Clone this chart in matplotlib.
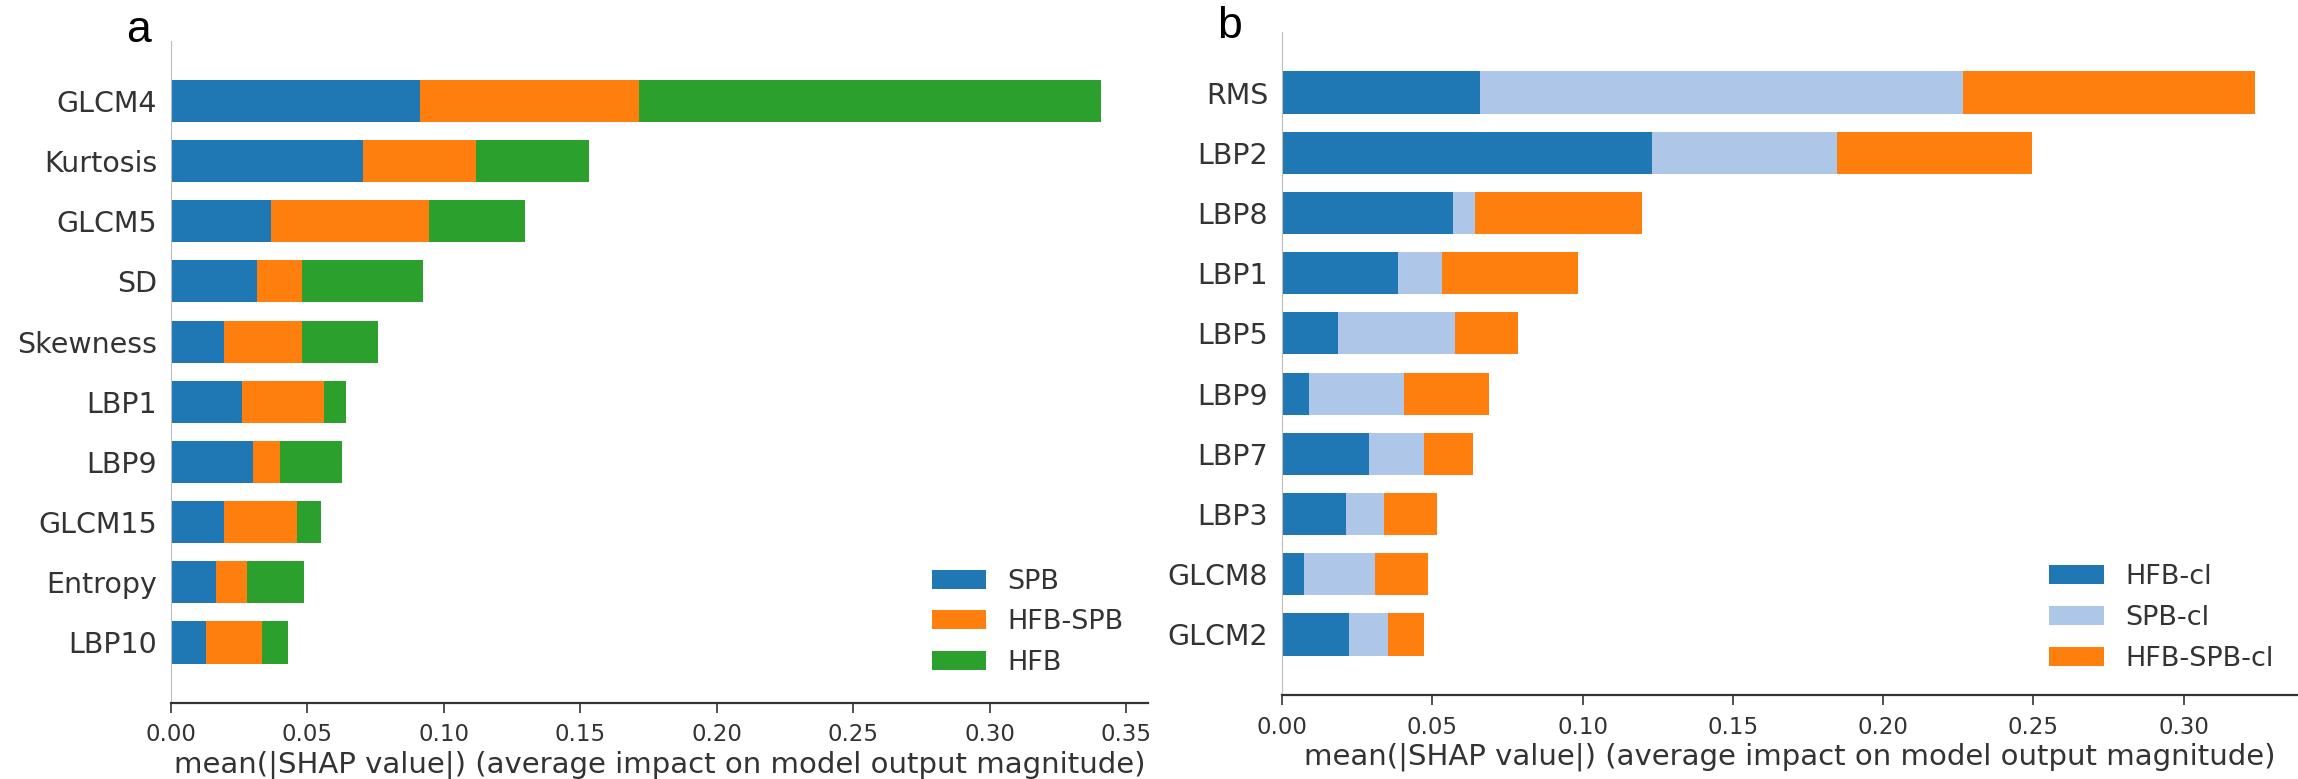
import numpy as np
import matplotlib
matplotlib.use("Agg")
from matplotlib import pyplot as plt

# panel a: stacked mean |SHAP| per feature
feat_a = ["GLCM4", "Kurtosis", "GLCM5", "SD", "Skewness",
          "LBP1", "LBP9", "GLCM15", "Entropy", "LBP10"]
spb = [0.0914, 0.0702, 0.0368, 0.0317, 0.0196, 0.0261, 0.0301, 0.0194, 0.0164, 0.0129]
hfb_spb = [0.0801, 0.0416, 0.0578, 0.0164, 0.0285, 0.0301, 0.0097, 0.0268, 0.0113, 0.0204]
hfb = [0.1691, 0.0414, 0.0352, 0.0441, 0.0277, 0.0080, 0.0228, 0.0089, 0.0210, 0.0097]

# panel b
feat_b = ["RMS", "LBP2", "LBP8", "LBP1", "LBP5",
          "LBP9", "LBP7", "LBP3", "GLCM8", "GLCM2"]
hfb_cl = [0.0658, 0.1231, 0.0570, 0.0385, 0.0185, 0.0088, 0.0288, 0.0214, 0.0073, 0.0222]
spb_cl = [0.1608, 0.0614, 0.0073, 0.0146, 0.0392, 0.0319, 0.0185, 0.0125, 0.0236, 0.0131]
hfb_spb_cl = [0.0970, 0.0650, 0.0556, 0.0453, 0.0208, 0.0280, 0.0163, 0.0178, 0.0178, 0.0120]

xticks_a = [0.0, 0.05, 0.10, 0.15, 0.20, 0.25, 0.30, 0.35]
xticks_b = [0.0, 0.05, 0.10, 0.15, 0.20, 0.25, 0.30]
xlab = "mean(|SHAP value|) (average impact on model output magnitude)"

axis_color = "#333333"


def shap_bar(ax, feats, series, names, colors, xlim, xticks):
    y = np.arange(len(feats))[::-1]
    left = np.zeros(len(feats))
    for vals, name, c in zip(series, names, colors):
        vals = np.array(vals)
        ax.barh(y, vals, 0.7, left=left, color=c, label=name)
        left += vals
    ax.set_yticks(y)
    ax.set_yticklabels(feats, fontsize=20.5, color=axis_color)
    ax.set_ylim(-1, len(feats))
    ax.set_xlim(0, xlim)
    ax.set_xticks(xticks)
    ax.set_xticklabels(["%.2f" % t for t in xticks], fontsize=16.5, color=axis_color)
    ax.set_xlabel(xlab, fontsize=21, color=axis_color, labelpad=3)
    ax.spines['right'].set_visible(False)
    ax.spines['top'].set_visible(False)
    ax.spines['left'].set_color("#bbbbbb")
    ax.spines['bottom'].set_color(axis_color)
    ax.spines['bottom'].set_linewidth(1.6)
    ax.tick_params(axis='y', length=0, pad=10)
    ax.tick_params(axis='x', color=axis_color, length=7, width=1.2, pad=8)


fig = plt.figure(figsize=(22.98, 7.79), dpi=100)
ax1 = fig.add_axes([0.0744, 0.098, 0.4252, 0.8498])
ax2 = fig.add_axes([0.5579, 0.1082, 0.4421, 0.8503])

shap_bar(ax1, feat_a, [spb, hfb_spb, hfb], ["SPB", "HFB-SPB", "HFB"],
         ["#1f77b4", "#ff7f0e", "#2ca02c"], 0.358, xticks_a)
shap_bar(ax2, feat_b, [hfb_cl, spb_cl, hfb_spb_cl], ["HFB-cl", "SPB-cl", "HFB-SPB-cl"],
         ["#1f77b4", "#aec7e8", "#ff7f0e"], 0.338, xticks_b)

for ax, anchor in [(ax1, (1.0, 0.003)), (ax2, (1.0, -0.002))]:
    leg = ax.legend(loc="lower right", bbox_to_anchor=anchor, frameon=False,
                    fontsize=19.5, handlelength=2.0, handleheight=0.7,
                    labelspacing=0.55, handletextpad=0.8)
    for t in leg.get_texts():
        t.set_color(axis_color)

fig.text(139 / 2298, 1 - 30 / 779, "a", fontsize=32, family="Liberation Sans",
         ha="center", va="center")
fig.text(1230 / 2298, 1 - 26 / 779, "b", fontsize=32, family="Liberation Sans",
         ha="center", va="center")

fig.savefig("out.png", dpi=100)
